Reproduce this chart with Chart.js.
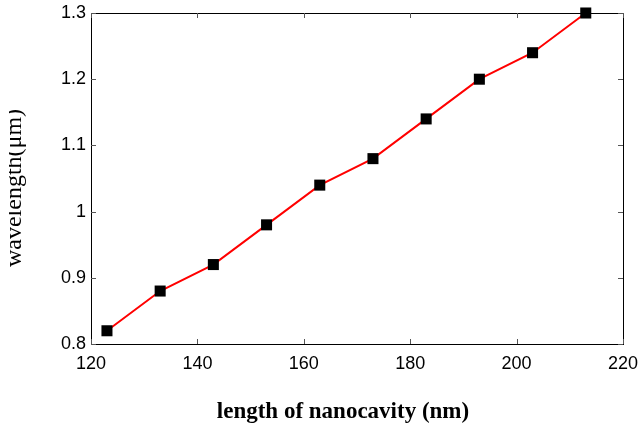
<!DOCTYPE html>
<html>
<head>
<meta charset="utf-8">
<script src="https://cdn.jsdelivr.net/npm/chart.js@4/dist/chart.umd.min.js"></script>
<style>
  html, body { margin: 0; padding: 0; background: #fff; }
  #wrap { width: 641px; height: 429px; position: relative; }
</style>
</head>
<body>
<div id="wrap"><canvas id="nanocavity"></canvas></div>
<script>
const cavity_lengths = [123, 133, 143, 153, 163, 173, 183, 193, 203, 213];
const wavelengths = [0.82, 0.88, 0.92, 0.98, 1.04, 1.08, 1.14, 1.20, 1.24, 1.30];
const x_ticks = [120, 140, 160, 180, 200, 220];
const y_ticks = [0.8, 0.9, 1.0, 1.1, 1.2, 1.3];

const x_title = 'length of nanocavity (nm)';
const y_title = 'wavelength(\u03bcm)';

// box round the plot, ticks pointing inward on all four sides, plus the axis titles
const frame_plugin = {
    id: 'frame',
    beforeDatasetsDraw(chart) {
        const ctx = chart.ctx;
        const area = chart.chartArea;
        const xs = chart.scales.x;
        const ys = chart.scales.y;
        ctx.save();
        ctx.strokeStyle = '#000';
        ctx.lineWidth = 1;
        ctx.strokeRect(Math.round(area.left) + 0.5, Math.round(area.top) + 0.5,
            Math.round(area.right - area.left), Math.round(area.bottom - area.top));

        ctx.strokeStyle = '#555';
        const tick_len = 5;
        x_ticks.forEach(t => {
            const px = Math.round(xs.getPixelForValue(t)) + 0.5;
            ctx.beginPath();
            ctx.moveTo(px, area.bottom);
            ctx.lineTo(px, area.bottom - tick_len);
            ctx.moveTo(px, area.top);
            ctx.lineTo(px, area.top + tick_len);
            ctx.stroke();
        });
        y_ticks.forEach(t => {
            const py = Math.round(ys.getPixelForValue(t)) + 0.5;
            ctx.beginPath();
            ctx.moveTo(area.left, py);
            ctx.lineTo(area.left + tick_len, py);
            ctx.moveTo(area.right, py);
            ctx.lineTo(area.right - tick_len, py);
            ctx.stroke();
        });

        ctx.fillStyle = '#000';
        ctx.font = 'bold 23px "Liberation Serif", "Times New Roman", serif';
        ctx.textAlign = 'center';
        ctx.textBaseline = 'alphabetic';
        ctx.fillText(x_title, 343, 418);

        // the original picture was cropped through the y title, so cut it the same way
        ctx.beginPath();
        ctx.rect(9, 0, 100, 429);
        ctx.clip();
        ctx.translate(21, 188);
        ctx.rotate(-Math.PI / 2);
        ctx.font = '24px "Liberation Serif", "Times New Roman", serif';
        ctx.fillText(y_title, 0, 0);
        ctx.restore();
    }
};

const tick_font = { family: '"Liberation Sans", Arial, sans-serif', size: 18 };

const line_config = {
    type: 'line',
    data: {
        datasets: [{
            label: 'wavelength',
            data: cavity_lengths.map((x, i) => ({ x: x, y: wavelengths[i] })),
            borderColor: '#ff0000',
            borderWidth: 2,
            pointStyle: 'rect',
            pointRadius: 7.8,
            pointBackgroundColor: '#000',
            pointBorderColor: '#000',
            pointBorderWidth: 0,
            tension: 0,
            fill: false,
            clip: false
        }]
    },
    options: {
        responsive: true,
        maintainAspectRatio: false,
        animation: false,
        layout: { padding: { left: 0, right: 18, top: 13, bottom: 0 } },
        plugins: {
            legend: { display: false },
            tooltip: { enabled: false }
        },
        scales: {
            x: {
                type: 'linear',
                min: 120,
                max: 220,
                afterBuildTicks: axis => { axis.ticks = x_ticks.map(v => ({ value: v })); },
                afterFit: axis => {
                    axis.height = 85;
                    axis.paddingLeft = 0;
                    axis.paddingRight = 0;
                },
                grid: { display: false, drawTicks: false },
                border: { display: false },
                ticks: { color: '#000', font: tick_font, padding: 9, maxRotation: 0 }
            },
            y: {
                type: 'linear',
                min: 0.8,
                max: 1.3,
                afterBuildTicks: axis => { axis.ticks = y_ticks.map(v => ({ value: v })); },
                afterFit: axis => {
                    axis.width = 91;
                    axis.paddingTop = 0;
                    axis.paddingBottom = 0;
                },
                grid: { display: false, drawTicks: false },
                border: { display: false },
                ticks: {
                    color: '#000',
                    font: tick_font,
                    padding: 5,
                    callback: v => String(Number(v.toFixed(2)))
                }
            }
        }
    },
    plugins: [frame_plugin]
};

new Chart(document.getElementById('nanocavity'), line_config);
</script>
</body>
</html>
